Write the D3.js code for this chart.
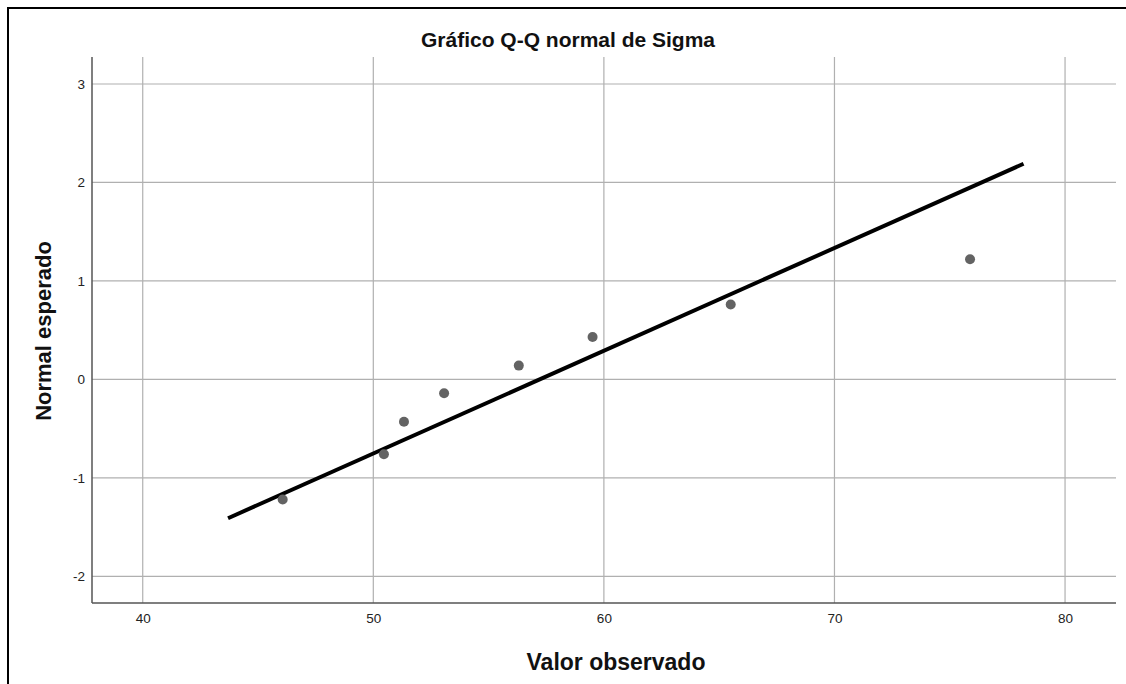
<!DOCTYPE html>
<html>
<head>
<meta charset="utf-8">
<script src="https://cdn.jsdelivr.net/npm/d3@7"></script>
<style>
  html, body { margin: 0; padding: 0; background: #fff; overflow: hidden; }
  svg { display: block; }
  text { font-family: "Liberation Sans", Arial, sans-serif; }
</style>
</head>
<body>
<svg id="chart" width="1126" height="684"></svg>
<script>
// Observed Sigma values and their expected normal scores
const observed = [46.07, 50.46, 51.33, 53.07, 56.31, 59.51, 65.50, 75.88];
const expectedNormal = [-1.22, -0.76, -0.43, -0.14, 0.14, 0.43, 0.76, 1.22];

// Reference line endpoints (observed value, expected normal score)
const lineObserved = [43.7, 78.2];
const lineExpected = [-1.41, 2.19];

const xTicks = [40, 50, 60, 70, 80];
const yTicks = [-2, -1, 0, 1, 2, 3];

const titleText = "Gráfico Q-Q normal de Sigma";
const xTitle = "Valor observado";
const yTitle = "Normal esperado";

const svg = d3.select("#chart");
const W = 1126, H = 684;

const plot = { left: 92, right: 1116, top: 57, bottom: 603 };

const x = d3.scaleLinear().domain([37.8, 82.21]).range([plot.left, plot.right]);
const y = d3.scaleLinear().domain([-2.271, 3.274]).range([plot.bottom, plot.top]);

// Outer frame: only the left and top edges fall inside the view
svg.append("path")
  .attr("d", `M8,${H}V8H${W}`)
  .attr("fill", "none").attr("stroke", "#000").attr("stroke-width", 2);

// Grid lines
const grid = svg.append("g");
grid.selectAll("line.v").data(xTicks).join("line")
  .attr("class", "v")
  .attr("x1", d => x(d)).attr("x2", d => x(d))
  .attr("y1", plot.top).attr("y2", plot.bottom)
  .attr("stroke", "#b0b0b0").attr("stroke-width", 1.2);
grid.selectAll("line.h").data(yTicks).join("line")
  .attr("class", "h")
  .attr("x1", plot.left).attr("x2", plot.right)
  .attr("y1", d => y(d)).attr("y2", d => y(d))
  .attr("stroke", "#b0b0b0").attr("stroke-width", 1.2);

// Axes
const xAxis = svg.append("g")
  .attr("transform", `translate(0,${plot.bottom})`)
  .call(d3.axisBottom(x).tickValues(xTicks).tickSize(0).tickPadding(10).tickFormat(d => String(d)));
xAxis.select(".domain").attr("stroke", "#555").attr("stroke-width", 1.5)
  .attr("d", `M${plot.left},0H${plot.right}`);
xAxis.selectAll("text").attr("font-size", 13.5).attr("fill", "#222")
  .attr("font-family", "Liberation Sans, Arial, sans-serif");

const yAxis = svg.append("g")
  .attr("transform", `translate(${plot.left},0)`)
  .call(d3.axisLeft(y).tickValues(yTicks).tickSize(0).tickPadding(7).tickFormat(d => String(d)));
yAxis.select(".domain").attr("stroke", "#555").attr("stroke-width", 1.5)
  .attr("d", `M0,${plot.top}V${plot.bottom}`);
yAxis.selectAll("text").attr("font-size", 13.5).attr("fill", "#222")
  .attr("font-family", "Liberation Sans, Arial, sans-serif");

// Reference line
const refLine = d3.line().x(d => x(d[0])).y(d => y(d[1]));
svg.append("path")
  .datum(d3.zip(lineObserved, lineExpected))
  .attr("d", refLine)
  .attr("fill", "none").attr("stroke", "#000").attr("stroke-width", 4);

// Points
svg.append("g").selectAll("circle")
  .data(d3.zip(observed, expectedNormal))
  .join("circle")
  .attr("cx", d => x(d[0])).attr("cy", d => y(d[1]))
  .attr("r", 5)
  .attr("fill", "#636363");

// Titles
svg.append("text")
  .attr("x", 568).attr("y", 47)
  .attr("text-anchor", "middle")
  .attr("font-size", 21).attr("font-weight", "bold").attr("fill", "#111")
  .text(titleText);

svg.append("text")
  .attr("x", 616).attr("y", 670)
  .attr("text-anchor", "middle")
  .attr("font-size", 23).attr("font-weight", "bold").attr("fill", "#111")
  .text(xTitle);

svg.append("text")
  .attr("transform", "translate(51,331) rotate(-90)")
  .attr("text-anchor", "middle")
  .attr("font-size", 22).attr("font-weight", "bold").attr("fill", "#111")
  .text(yTitle);
</script>
</body>
</html>
